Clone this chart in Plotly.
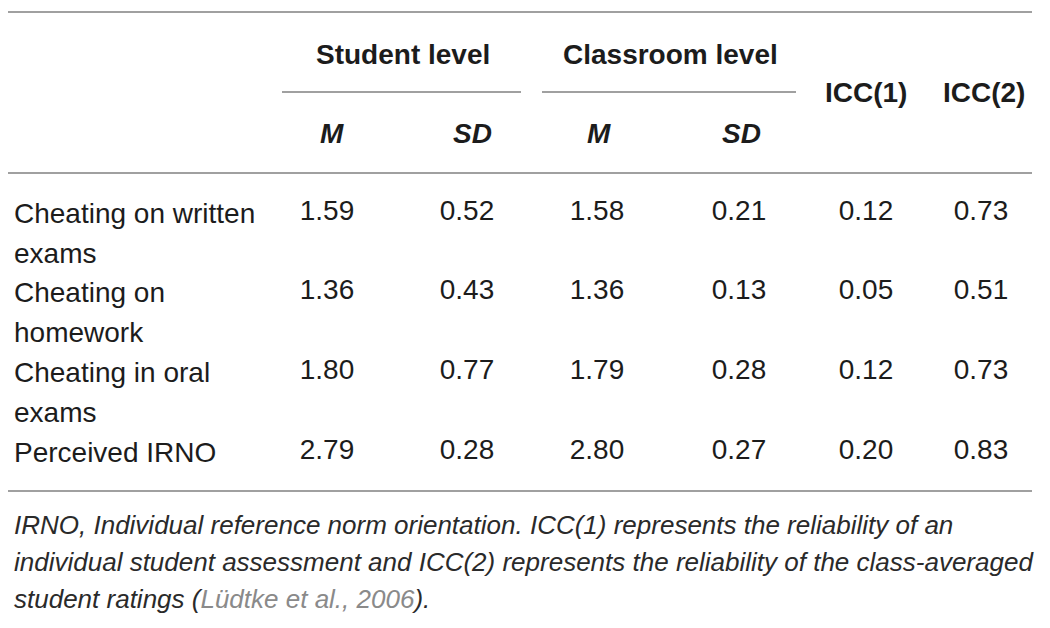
import plotly.graph_objects as go

# table content
row_labels = ["Cheating on written<br>exams", "Cheating on<br>homework",
              "Cheating in oral<br>exams", "Perceived IRNO"]
student_m = [1.59, 1.36, 1.80, 2.79]
student_sd = [0.52, 0.43, 0.77, 0.28]
class_m = [1.58, 1.36, 1.79, 2.80]
class_sd = [0.21, 0.13, 0.28, 0.27]
icc1 = [0.12, 0.05, 0.12, 0.20]
icc2 = [0.73, 0.51, 0.73, 0.83]
group_headers = ["Student level", "Classroom level"]
sub_headers = ["M", "SD", "M", "SD"]
icc_headers = ["ICC(1)", "ICC(2)"]
footnote_lines = [
    "IRNO, Individual reference norm orientation. ICC(1) represents the reliability of an",
    "individual student assessment and ICC(2) represents the reliability of the class-averaged",
    "student ratings (<span style='color:#8a8a8a'>Lüdtke et al., 2006</span>).",
]

W, H = 1050, 628
OFF = 8  # page body margin, so axis units = window pixels
font = "Liberation Sans"
txt = "#1c1c1c"
rule = "#a0a0a0"

col_x = [327, 467, 597, 739, 866, 981]
row_y = [213, 292, 372, 452]
line_gap = 40

fig = go.Figure()

columns = [student_m, student_sd, class_m, class_sd, icc1, icc2]
for cx, vals in zip(col_x, columns):
    fig.add_trace(go.Scatter(
        x=[cx] * len(vals), y=row_y, mode="text",
        text=["%.2f" % v for v in vals], textposition="middle center",
        textfont=dict(family=font, size=28, color=txt),
        hoverinfo="skip", showlegend=False))

ann = []
for lab, y in zip(row_labels, row_y):
    for i, part in enumerate(lab.split("<br>")):
        ann.append(dict(x=12, y=y + i * line_gap, text=part, xanchor="left", yanchor="middle",
                        showarrow=False, font=dict(family=font, size=28, color=txt)))

for h, cx in zip(group_headers, [403, 670]):
    ann.append(dict(x=cx, y=54, text="<b>%s</b>" % h, showarrow=False,
                    font=dict(family=font, size=28, color=txt)))
for h, cx in zip(sub_headers, [332, 472, 599, 741]):
    ann.append(dict(x=cx, y=133, text="<b><i>%s</i></b>" % h, showarrow=False,
                    font=dict(family=font, size=28, color=txt)))
for h, cx in zip(icc_headers, [866, 984]):
    ann.append(dict(x=cx, y=92, text="<b>%s</b>" % h, showarrow=False,
                    font=dict(family=font, size=28, color=txt)))

for i, line in enumerate(footnote_lines):
    ann.append(dict(x=12, y=525 + i * 37, text="<i>%s</i>" % line, xanchor="left",
                    yanchor="middle", showarrow=False,
                    font=dict(family=font, size=26, color="#2a2a2a")))

shapes = []
for y in [12, 173, 491]:
    shapes.append(dict(type="line", x0=6, x1=1032, y0=y, y1=y, line=dict(color=rule, width=2)))
for x0, x1 in [(282, 521), (542, 796)]:
    shapes.append(dict(type="line", x0=x0, x1=x1, y0=92, y1=92, line=dict(color=rule, width=2)))

fig.update_layout(
    width=W, height=H, margin=dict(l=0, r=0, t=0, b=0),
    paper_bgcolor="white", plot_bgcolor="white",
    xaxis=dict(range=[OFF, W + OFF], visible=False, fixedrange=True),
    yaxis=dict(range=[H + OFF, OFF], visible=False, fixedrange=True),
    annotations=ann, shapes=shapes,
)

fig.write_html("out.html")
